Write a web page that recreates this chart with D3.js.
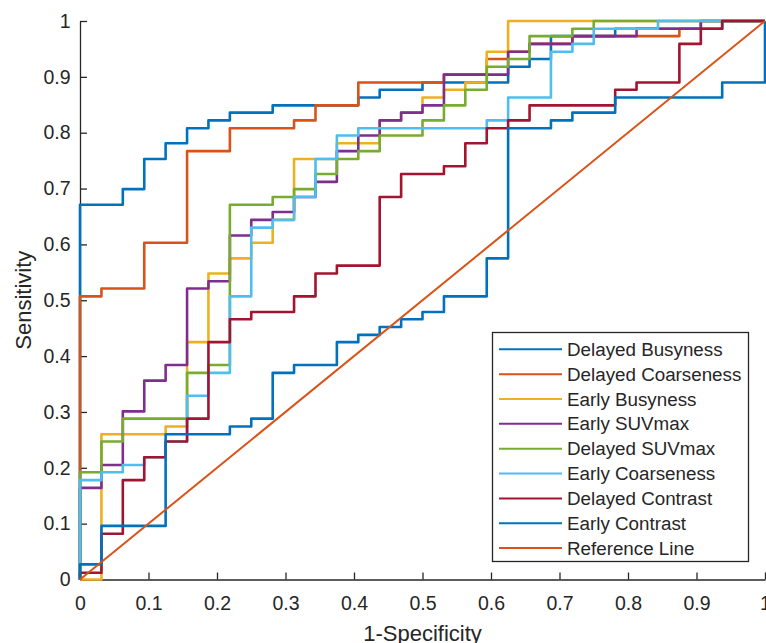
<!DOCTYPE html>
<html>
<head>
<meta charset="utf-8">
<script src="https://cdn.jsdelivr.net/npm/d3@7"></script>
<style>
  body { margin: 0; background: #fff; }
  svg text { font-family: "Liberation Sans", Arial, Helvetica, sans-serif; fill: #262626; }
</style>
</head>
<body>
<div id="viz"></div>
<script>
const width = 766;
const height = 643;
const plot = { left: 80, right: 765, top: 21, bottom: 579.5 };

// legend order
const names = ['Delayed Busyness', 'Delayed Coarseness', 'Early Busyness', 'Early SUVmax',
  'Delayed SUVmax', 'Early Coarseness', 'Delayed Contrast', 'Early Contrast', 'Reference Line'];
const colors = ['#0072BD', '#D95319', '#EDB120', '#7E2F8E', '#77AC30', '#4DBEEE', '#A2142F', '#0072BD', '#D95319'];
const ticks = [0, 0.1, 0.2, 0.3, 0.4, 0.5, 0.6, 0.7, 0.8, 0.9, 1];

// ROC corner points (1-specificity, sensitivity)
const fprDelayedBusyness = [0, 0, .0625, .0938, .125, .1563, .1875, .2188, .2813, .4063, .4375, .5, .625, .6563, .6875, .7813, .9375, 1];
const tprDelayedBusyness = [0, .671, .699, .753, .781, .808, .822, .836, .849, .863, .877, .890, .918, .932, .973, .986, 1, 1];

const fprDelayedCoarseness = [0, 0, .0313, .0938, .1563, .2188, .3125, .3438, .4063, .5313, .5938, .625, .6563, .7188, .875, .9063, 1];
const tprDelayedCoarseness = [0, .507, .521, .603, .767, .808, .822, .849, .890, .904, .932, .945, .959, .973, .986, 1, 1];

const fprEarlyBusyness = [0, .0313, .125, .1563, .1875, .2188, .25, .2813, .3125, .375, .4375, .4688, .5, .5313, .5625, .5938, .625, 1];
const tprEarlyBusyness = [0, .260, .274, .425, .548, .575, .603, .644, .753, .781, .822, .836, .863, .877, .890, .945, 1, 1];

const fprEarlySUVmax = [0, 0, .0313, .0625, .0938, .125, .1563, .1875, .2188, .25, .2813, .3125, .3438, .375, .4063, .4375, .4688, .5, .5313, .625, .6563, .7188, .8125, .9063, 1];
const tprEarlySUVmax = [0, .164, .205, .301, .356, .384, .521, .534, .616, .644, .658, .685, .712, .767, .795, .822, .836, .849, .904, .945, .959, .973, .986, 1, 1];

const fprDelayedSUVmax = [0, 0, .0313, .0625, .1563, .1875, .2188, .2813, .3125, .3438, .375, .4063, .4375, .5, .5313, .5625, .5938, .625, .6563, .7188, .75, 1];
const tprDelayedSUVmax = [0, .192, .247, .288, .370, .384, .671, .685, .699, .726, .753, .767, .795, .822, .849, .877, .918, .932, .973, .986, 1, 1];

const fprEarlyCoarseness = [0, 0, .0313, .0625, .0938, .125, .1563, .1875, .2188, .25, .2813, .3125, .3438, .375, .4063, .5938, .625, .6875, .7188, .75, .8438, 1];
const tprEarlyCoarseness = [0, .178, .192, .205, .219, .247, .329, .370, .507, .630, .644, .685, .753, .795, .808, .822, .863, .945, .959, .986, 1, 1];

const fprDelayedContrast = [0, 0, .0313, .0625, .0938, .125, .1563, .1875, .2188, .25, .3125, .3438, .375, .4375, .4688, .5313, .5625, .5938, .625, .6563, .7813, .8125, .875, .9063, .9375, 1];
const tprDelayedContrast = [0, .012, .082, .178, .219, .247, .288, .425, .466, .479, .507, .548, .562, .685, .726, .740, .781, .808, .822, .849, .877, .890, .959, .986, 1, 1];

const fprEarlyContrast = [0, 0, .0313, .125, .2188, .25, .2813, .3125, .375, .4063, .4375, .4688, .5, .5313, .5938, .625, .6875, .7188, .7813, .9375, 1];
const tprEarlyContrast = [0, .027, .096, .260, .274, .288, .370, .384, .425, .438, .452, .466, .479, .507, .575, .808, .822, .836, .863, .890, 1];

const fprReference = [0, 1];
const tprReference = [0, 1];

const fprs = [fprDelayedBusyness, fprDelayedCoarseness, fprEarlyBusyness, fprEarlySUVmax, fprDelayedSUVmax,
  fprEarlyCoarseness, fprDelayedContrast, fprEarlyContrast, fprReference];
const tprs = [tprDelayedBusyness, tprDelayedCoarseness, tprEarlyBusyness, tprEarlySUVmax, tprDelayedSUVmax,
  tprEarlyCoarseness, tprDelayedContrast, tprEarlyContrast, tprReference];

const svg = d3.select('#viz')
  .append('svg')
  .attr('width', width)
  .attr('height', height);

const xScale = d3.scaleLinear().domain([0, 1]).range([plot.left, plot.right]);
const yScale = d3.scaleLinear().domain([0, 1]).range([plot.bottom, plot.top]);

const fmt = d => d3.format('~g')(d);

// axes (MATLAB style: ticks inward, no box)
const xAxis = d3.axisBottom(xScale).tickValues(ticks).tickFormat(fmt)
  .tickSizeInner(-7).tickSizeOuter(0).tickPadding(17);
const yAxis = d3.axisLeft(yScale).tickValues(ticks).tickFormat(fmt)
  .tickSizeInner(-7).tickSizeOuter(0).tickPadding(9.5);

const gx = svg.append('g')
  .attr('transform', `translate(0,${plot.bottom})`)
  .call(xAxis);
const gy = svg.append('g')
  .attr('transform', `translate(${plot.left},0)`)
  .call(yAxis);

[gx, gy].forEach(g => {
  g.select('.domain').attr('stroke', '#262626').attr('stroke-width', 1.3);
  g.selectAll('.tick line').attr('stroke', '#262626').attr('stroke-width', 1.3);
  g.selectAll('.tick text')
    .attr('font-size', 19.5)
    .attr('fill', '#262626')
    .attr('font-family', '"Liberation Sans", Arial, Helvetica, sans-serif');
});

// curves
const stepLine = d3.line()
  .x(d => xScale(d[0]))
  .y(d => yScale(d[1]))
  .curve(d3.curveStepAfter);
const straightLine = d3.line()
  .x(d => xScale(d[0]))
  .y(d => yScale(d[1]));

names.forEach((name, i) => {
  const pts = fprs[i].map((f, j) => [f, tprs[i][j]]);
  const isRef = name === 'Reference Line';
  svg.append('path')
    .attr('d', isRef ? straightLine(pts) : stepLine(pts))
    .attr('fill', 'none')
    .attr('stroke', colors[i])
    .attr('stroke-width', isRef ? 2 : 2.6)
    .attr('stroke-linejoin', 'round');
});

// axis titles
svg.append('text')
  .attr('x', (plot.left + plot.right) / 2)
  .attr('y', 641)
  .attr('text-anchor', 'middle')
  .attr('font-size', 22)
  .text('1-Specificity');

svg.append('text')
  .attr('transform', `translate(31,${(plot.top + plot.bottom) / 2}) rotate(-90)`)
  .attr('text-anchor', 'middle')
  .attr('font-size', 22)
  .text('Sensitivity');

// legend
const legend = svg.append('g');
legend.append('rect')
  .attr('x', 492.5)
  .attr('y', 332.5)
  .attr('width', 256)
  .attr('height', 229)
  .attr('fill', '#fff')
  .attr('stroke', '#262626')
  .attr('stroke-width', 1.3);

const rowY = i => 349.3 + i * 24.85;
legend.selectAll('line.key')
  .data(names)
  .join('line')
  .attr('class', 'key')
  .attr('x1', 499)
  .attr('x2', 562)
  .attr('y1', (d, i) => rowY(i))
  .attr('y2', (d, i) => rowY(i))
  .attr('stroke', (d, i) => colors[i])
  .attr('stroke-width', 2);

legend.selectAll('text.key')
  .data(names)
  .join('text')
  .attr('class', 'key')
  .attr('x', 567)
  .attr('y', (d, i) => rowY(i))
  .attr('dy', '0.35em')
  .attr('font-size', 18.8)
  .text(d => d);
</script>
</body>
</html>
